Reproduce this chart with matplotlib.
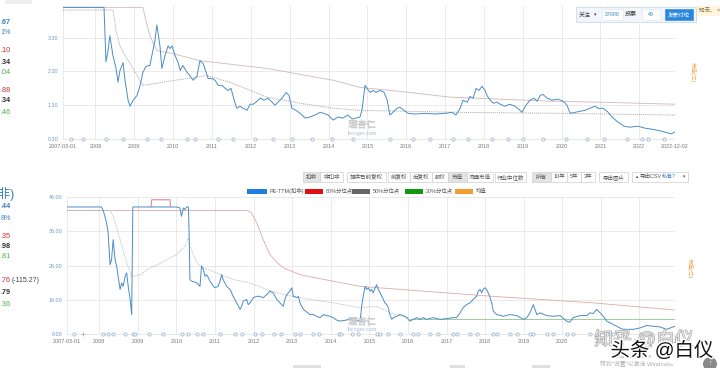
import matplotlib
matplotlib.use('Agg')
import matplotlib.pyplot as plt
from matplotlib.patches import Rectangle, Circle
import matplotlib.patheffects as pe

plt.rcParams['font.family'] = ['Liberation Sans', 'Noto Sans CJK SC', 'DejaVu Sans']

# ---------------- data (decimal years, values) ----------------
x_ticks = [2007.164] + list(range(2008, 2023)) + [2022.92]
x_labels = ['2007-03-01'] + [str(y) for y in range(2008, 2023)] + ['2022-12-02']

top_yticks = [0.30, 1.30, 2.30, 3.30]
bot_yticks = [6.00, 16.00, 26.00, 36.00, 46.00]

top_series = [(2007.164, 4.20), (2008.22, 4.20), (2008.27, 2.59), (2008.32, 2.89), (2008.37, 3.36),
              (2008.45, 2.77), (2008.53, 2.39), (2008.58, 1.98), (2008.63, 2.33), (2008.71, 2.56),
              (2008.76, 2.04), (2008.84, 1.45), (2008.89, 1.27), (2008.97, 1.45), (2009.07, 1.59),
              (2009.15, 1.89), (2009.22, 2.27), (2009.30, 2.45), (2009.40, 2.48), (2009.48, 2.92),
              (2009.53, 3.21), (2009.58, 3.68), (2009.66, 3.06), (2009.71, 2.39), (2009.79, 2.77),
              (2009.87, 3.06), (2009.92, 2.98), (2009.97, 3.06), (2010.05, 2.77), (2010.13, 2.56),
              (2010.18, 2.33), (2010.25, 2.48), (2010.36, 2.27), (2010.43, 2.18), (2010.51, 2.04),
              (2010.61, 2.15), (2010.69, 2.62), (2010.77, 2.54), (2010.85, 2.27), (2010.90, 2.09),
              (2011.00, 2.09), (2011.08, 2.04), (2011.16, 1.89), (2011.26, 1.89), (2011.34, 1.80),
              (2011.41, 1.74), (2011.49, 1.80), (2011.57, 1.45), (2011.64, 1.21), (2011.72, 1.27),
              (2011.80, 1.21), (2011.90, 1.15), (2011.98, 1.33), (2012.06, 1.33), (2012.13, 1.39),
              (2012.24, 1.51), (2012.34, 1.45), (2012.44, 1.51), (2012.55, 1.39), (2012.62, 1.30),
              (2012.70, 1.39), (2012.80, 1.51), (2012.91, 1.68), (2012.98, 1.59), (2013.06, 1.21),
              (2013.16, 1.15), (2013.27, 1.06), (2013.40, 0.92), (2013.52, 0.95), (2013.65, 1.01),
              (2013.78, 1.09), (2013.88, 1.06), (2013.99, 1.01), (2014.12, 0.86), (2014.24, 0.95),
              (2014.37, 0.92), (2014.50, 1.01), (2014.61, 0.89), (2014.71, 0.92), (2014.81, 0.95),
              (2014.86, 1.15), (2014.94, 1.89), (2014.99, 1.80), (2015.07, 1.68), (2015.15, 1.74),
              (2015.22, 1.68), (2015.33, 1.74), (2015.43, 1.68), (2015.51, 1.45), (2015.58, 1.01),
              (2015.66, 1.09), (2015.76, 1.21), (2015.84, 1.24), (2015.94, 1.15), (2016.05, 1.06),
              (2016.23, 1.04), (2016.48, 1.06), (2016.74, 1.04), (2017.00, 1.06), (2017.18, 1.09),
              (2017.28, 1.01), (2017.39, 1.21), (2017.46, 1.45), (2017.57, 1.39), (2017.64, 1.56),
              (2017.72, 1.51), (2017.80, 1.80), (2017.87, 1.74), (2017.95, 1.86), (2018.03, 1.74),
              (2018.08, 1.59), (2018.16, 1.45), (2018.24, 1.36), (2018.34, 1.39), (2018.42, 1.33),
              (2018.54, 1.27), (2018.67, 1.33), (2018.80, 1.27), (2018.93, 1.15), (2018.98, 1.09),
              (2019.08, 1.30), (2019.19, 1.45), (2019.29, 1.51), (2019.37, 1.42), (2019.45, 1.59),
              (2019.52, 1.62), (2019.63, 1.51), (2019.75, 1.45), (2019.91, 1.48), (2020.04, 1.42),
              (2020.14, 1.30), (2020.22, 1.06), (2020.35, 1.09), (2020.48, 1.12), (2020.60, 1.15),
              (2020.73, 1.21), (2020.86, 1.27), (2020.94, 1.21), (2021.07, 1.21), (2021.20, 1.09),
              (2021.30, 0.95), (2021.45, 0.80), (2021.61, 0.68), (2021.76, 0.65), (2021.97, 0.68),
              (2022.15, 0.62), (2022.33, 0.59), (2022.54, 0.54), (2022.74, 0.48), (2022.82, 0.45),
              (2022.92, 0.51)]

top_p80 = [(2007.164, 4.20), (2009.22, 4.20), (2009.30, 3.80), (2009.40, 3.36), (2009.58, 2.92),
           (2009.99, 2.83), (2010.69, 2.62), (2012.42, 2.39), (2014.12, 2.04), (2014.81, 1.83),
           (2015.84, 1.71), (2017.13, 1.54), (2018.42, 1.48), (2019.70, 1.42), (2020.99, 1.39),
           (2022.92, 1.33)]
top_p50 = [(2007.164, 4.12), (2008.45, 4.12), (2008.53, 3.51), (2008.63, 3.06), (2008.76, 2.77),
           (2008.89, 2.54), (2009.07, 2.18), (2009.22, 1.89), (2009.40, 1.92), (2010.05, 2.04),
           (2010.87, 2.18), (2011.46, 1.98), (2012.42, 1.54), (2013.27, 1.36), (2014.12, 1.21),
           (2014.81, 1.15), (2017.39, 1.09), (2019.96, 1.06), (2022.92, 1.01)]

top_events = [2007.37, 2007.68, 2008.27, 2008.71, 2009.33, 2009.69, 2010.36, 2010.56, 2011.16,
              2011.54, 2012.11, 2012.57, 2013.06, 2013.58, 2014.09, 2014.63, 2015.58, 2016.18,
              2016.61, 2017.21, 2017.59, 2018.21, 2018.62, 2019.01, 2019.52, 2020.11, 2020.65,
              2021.09, 2021.68, 2022.07, 2022.23, 2022.64]

bot_pe = [(2007.164, 43.1), (2008.06, 43.1), (2008.11, 41.8), (2008.19, 38.5), (2008.23, 35.6),
          (2008.28, 26.3), (2008.32, 27.8), (2008.36, 33.6), (2008.41, 27.8), (2008.45, 25.9),
          (2008.49, 22.9), (2008.54, 19.1), (2008.58, 21.0), (2008.62, 20.0), (2008.67, 22.9),
          (2008.71, 23.9), (2008.75, 20.0), (2008.80, 16.2), (2008.84, 11.8), (2008.87, 43.1),
          (2010.01, 43.1), (2010.09, 42.8), (2010.13, 40.4), (2010.18, 42.8), (2010.22, 42.3),
          (2010.26, 43.1), (2010.31, 43.1), (2010.33, 34.6), (2010.35, 22.0), (2010.40, 21.5),
          (2010.53, 21.0), (2010.61, 20.0), (2010.65, 25.9), (2010.70, 24.9), (2010.74, 22.9),
          (2010.78, 23.4), (2010.83, 22.5), (2010.87, 21.5), (2010.96, 20.0), (2011.00, 19.6),
          (2011.08, 20.0), (2011.13, 21.5), (2011.17, 23.4), (2011.21, 22.0), (2011.30, 20.0),
          (2011.39, 19.1), (2011.47, 17.1), (2011.56, 15.2), (2011.65, 13.3), (2011.69, 14.2),
          (2011.73, 15.7), (2011.82, 16.2), (2011.86, 14.7), (2011.91, 15.2), (2011.99, 16.7),
          (2012.08, 17.1), (2012.16, 17.1), (2012.25, 16.7), (2012.34, 17.6), (2012.42, 18.6),
          (2012.51, 18.1), (2012.60, 16.2), (2012.68, 15.2), (2012.77, 14.2), (2012.81, 16.2),
          (2012.86, 17.6), (2012.94, 18.6), (2012.99, 19.6), (2013.03, 17.1), (2013.12, 16.7),
          (2013.16, 17.1), (2013.20, 15.2), (2013.29, 13.3), (2013.38, 12.5), (2013.46, 11.8),
          (2013.55, 11.8), (2013.63, 11.3), (2013.72, 10.9), (2013.81, 11.8), (2013.89, 11.5),
          (2013.98, 11.3), (2014.06, 10.9), (2014.15, 10.2), (2014.24, 9.9), (2014.41, 10.2),
          (2014.50, 10.6), (2014.58, 10.4), (2014.76, 9.9), (2014.80, 14.2), (2014.84, 17.1),
          (2014.89, 20.0), (2014.93, 19.1), (2014.97, 19.6), (2015.02, 18.6), (2015.06, 19.1),
          (2015.10, 18.1), (2015.15, 19.6), (2015.19, 20.5), (2015.23, 19.1), (2015.28, 18.1),
          (2015.32, 17.1), (2015.36, 16.2), (2015.40, 15.2), (2015.45, 14.7), (2015.49, 13.8),
          (2015.53, 11.8), (2015.58, 10.4), (2015.62, 10.9), (2015.71, 11.3), (2015.79, 11.8),
          (2015.88, 11.5), (2015.97, 10.9), (2016.05, 9.9), (2016.14, 10.4), (2016.23, 10.9),
          (2016.31, 10.4), (2016.40, 10.9), (2016.48, 10.4), (2016.66, 10.9), (2016.83, 10.4),
          (2017.00, 10.6), (2017.17, 10.9), (2017.26, 10.9), (2017.35, 12.3), (2017.43, 13.8),
          (2017.52, 14.7), (2017.61, 15.2), (2017.69, 16.2), (2017.78, 17.1), (2017.82, 18.6),
          (2017.87, 19.1), (2017.91, 18.1), (2017.95, 19.1), (2017.99, 19.6), (2018.04, 19.1),
          (2018.08, 18.1), (2018.12, 17.1), (2018.17, 15.2), (2018.21, 12.8), (2018.30, 11.8),
          (2018.47, 11.3), (2018.64, 11.8), (2018.82, 11.5), (2018.99, 10.4), (2019.08, 10.9),
          (2019.16, 12.3), (2019.25, 14.7), (2019.29, 13.3), (2019.34, 11.8), (2019.42, 12.3),
          (2019.59, 11.5), (2019.77, 11.3), (2019.94, 11.5), (2020.11, 9.9), (2020.20, 9.6),
          (2020.28, 10.9), (2020.46, 11.5), (2020.63, 11.5), (2020.72, 12.3), (2020.80, 12.1),
          (2020.89, 13.3), (2020.98, 12.3), (2021.06, 11.3), (2021.15, 9.9), (2021.24, 9.4),
          (2021.32, 8.9), (2021.41, 8.4), (2021.49, 7.9), (2021.58, 7.5), (2021.84, 7.5),
          (2022.01, 7.9), (2022.18, 8.6), (2022.36, 8.4), (2022.53, 8.2), (2022.70, 7.5),
          (2022.92, 8.4)]
bot_capped = [(2009.34, 43.1), (2009.36, 45.2), (2009.83, 45.2), (2009.85, 43.1)]

bot_p80 = [(2007.164, 42.1), (2011.85, 42.1), (2011.95, 41.3), (2012.08, 38.5), (2012.25, 33.6),
           (2012.42, 29.3), (2012.60, 27.0), (2012.77, 25.4), (2013.20, 23.4), (2014.06, 21.5),
           (2014.76, 20.0), (2018.20, 17.1), (2020.80, 15.2), (2022.92, 13.1)]
bot_p50 = [(2007.164, 42.1), (2008.28, 42.1), (2008.36, 40.4), (2008.54, 33.6), (2008.71, 26.8),
           (2008.84, 22.9), (2009.06, 23.4), (2009.32, 25.4), (2009.57, 26.6), (2009.75, 27.8),
           (2010.01, 29.3), (2010.22, 31.7), (2010.31, 34.1), (2010.35, 31.7), (2010.53, 26.8),
           (2010.70, 25.4), (2011.04, 23.9), (2011.47, 22.0), (2011.91, 21.0), (2012.34, 19.1),
           (2012.77, 17.6), (2013.20, 16.7), (2014.06, 15.2), (2014.76, 13.8), (2015.19, 14.2),
           (2015.60, 12.0), (2016.05, 10.8)]
bot_p20 = [(2016.05, 10.6), (2022.92, 10.6)]

bot_events = [2007.35, 2008.10, 2008.23, 2008.36, 2008.67, 2008.87, 2008.93, 2009.29, 2009.65,
              2010.14, 2010.30, 2010.53, 2010.69, 2011.13, 2011.52, 2011.70, 2012.04, 2012.22,
              2012.53, 2012.71, 2013.07, 2013.20, 2013.54, 2013.69, 2014.21, 2014.26, 2014.55,
              2014.70, 2015.20, 2015.27, 2015.48, 2015.79, 2016.13, 2016.26, 2016.57, 2016.78,
              2017.17, 2017.27, 2017.61, 2017.79, 2018.20, 2018.31, 2018.64, 2018.82, 2019.16,
              2019.24, 2019.60, 2019.76, 2020.12, 2020.28, 2020.72, 2020.90, 2021.16, 2021.31,
              2021.62, 2022.05, 2022.30, 2022.62]
bot_plus_events = [2007.58]

legend_items = [('PE-TTM(扣非)', '#1e7fe0'), ('80%分位点', '#e01010'), ('50%分位点', '#666666'),
                ('20%分位点', '#119911'), ('均值', '#f39c32')]

# ---------------- figure ----------------
W, H = 720, 368
fig = plt.figure(figsize=(7.2, 3.68), dpi=100)
fig.patch.set_facecolor('white')

BLUE = '#4a8cc8'
GRID = '#e6e6e6'


def unzip(pairs):
    return [p[0] for p in pairs], [p[1] for p in pairs]


def style_axes(ax, yticks, fmt):
    ax.set_xlim(2007.164, 2022.92)
    ax.set_xticks(x_ticks)
    ax.set_xticklabels(x_labels)
    ax.set_yticks(yticks)
    ax.set_yticklabels([fmt % v for v in yticks])
    ax.grid(True, color=GRID, lw=0.6)
    ax.set_axisbelow(True)
    for s in ax.spines.values():
        s.set_visible(False)
    ax.tick_params(axis='both', length=0, labelsize=3.9, pad=3.2)
    ax.tick_params(axis='x', colors='#777777')
    ax.tick_params(axis='y', colors='#6a9acb')
    ax.patch.set_alpha(0)


# top chart
ax1 = fig.add_axes([63 / W, 1 - 139.5 / H, 612 / W, 133.5 / H])
style_axes(ax1, top_yticks, '%.2f')
ax1.set_ylim(0.285, 4.24)
t, v = unzip(top_p80)
ax1.plot(t, v, color='#d2b8b8', lw=0.6)
t, v = unzip(top_p50)
ax1.plot(t, v, color='#a8a8a8', lw=0.7, ls=(0, (1, 1)))
t, v = unzip(top_series)
ax1.plot(t, v, color=BLUE, lw=0.7)
ax1.plot(top_events, [top_yticks[0]] * len(top_events), 'o', ms=2.3, mfc='white',
         mec='#8fa8c0', mew=0.5, clip_on=False)

# bottom chart
ax2 = fig.add_axes([67 / W, 1 - 335 / H, 608 / W, 138 / H])
style_axes(ax2, bot_yticks, '%.2f')
ax2.set_ylim(5.85, 46.0)
t, v = unzip(bot_p80)
ax2.plot(t, v, color='#e0a8a8', lw=0.6)
t, v = unzip(bot_p50)
ax2.plot(t, v, color='#b0b0b0', lw=0.6, ls=(0, (1, 1)))
t, v = unzip(bot_p20)
ax2.plot(t, v, color='#8cc88c', lw=0.6)
t, v = unzip(bot_pe)
ax2.plot(t, v, color=BLUE, lw=0.7)
t, v = unzip(bot_capped)
ax2.plot(t, v, color='#d98a92', lw=0.8)
ax2.plot(bot_events, [bot_yticks[0]] * len(bot_events), 'o', ms=2.3, mfc='white',
         mec='#8fa8c0', mew=0.5, clip_on=False)
ax2.plot(bot_plus_events, [bot_yticks[0]] * len(bot_plus_events), '+', ms=2.5,
         mec='#8fa8c0', mew=0.5, clip_on=False)

# ---------------- UI overlay ----------------
ui = fig.add_axes([0, 0, 1, 1], zorder=5)
ui.set_xlim(0, W)
ui.set_ylim(H, 0)
ui.axis('off')
ui.patch.set_alpha(0)

ui.add_patch(Rectangle((5, 0), 27, 4, facecolor='#eeeeee', edgecolor='none'))

# left side partial numbers
left_top = [(22, '.67', '#3d7fc1', True), (33, '1%', '#3d7fc1', False),
            (51, '.10', '#c9302c', False), (62, '.34', '#333333', True), (72, '.04', '#4cae4c', False),
            (90, '.88', '#c9302c', False), (100, '.34', '#333333', True), (112, '.46', '#4cae4c', False)]
for y, s, c, b in left_top:
    ui.text(0.5, y, s, fontsize=5.2, color=c, weight='bold' if b else 'normal', va='center', ha='left')
ui.text(14, 194, '(扣非)', fontsize=9, color='#3d7fc1', va='center', ha='right')
left_bot = [(207, '.44', '#3d7fc1', True), (218, '8%', '#3d7fc1', False),
            (236, '.35', '#c9302c', False), (246, '.98', '#333333', True), (257, '.81', '#4cae4c', False),
            (293, '.79', '#333333', True), (304, '.36', '#4cae4c', False)]
for y, s, c, b in left_bot:
    ui.text(0.5, y, s, fontsize=5.2, color=c, weight='bold' if b else 'normal', va='center', ha='left')
ui.text(0.5, 281, '.76', fontsize=5.2, color='#c9302c', va='center', ha='left')
ui.text(11.5, 281, '(-115.27)', fontsize=5.0, color='#444444', va='center', ha='left')

# top-right control box
ui.add_patch(Rectangle((576, 7), 120, 15, facecolor='#f2f6fb', edgecolor='#c8dcf0', lw=0.6))
ui.text(585, 14.5, '关注', fontsize=4.3, color='#444', va='center', ha='center')
ui.text(595, 14.5, '▾', fontsize=3.5, color='#444', va='center', ha='center')
ui.add_patch(Rectangle((602, 9), 21, 11, facecolor='white', edgecolor='#dde6ef', lw=0.4))
ui.text(612.5, 14.5, '27000', fontsize=3.8, color='#3a7fc2', va='center', ha='center')
ui.text(631, 14.5, '投票', fontsize=4.3, color='#444', va='center', ha='center')
ui.add_patch(Rectangle((642, 9), 18, 11, facecolor='white', edgecolor='#dde6ef', lw=0.4))
ui.text(651, 14.5, '49', fontsize=3.8, color='#3a7fc2', va='center', ha='center')
ui.add_patch(Rectangle((665, 9), 28, 11, facecolor='#2a86de', edgecolor='#2a86de', lw=0.4))
ui.text(679, 14.5, '发表讨论', fontsize=4.0, color='white', va='center', ha='center')
ui.add_patch(Rectangle((697, 6), 23, 10, facecolor='#fdf5dc', edgecolor='none'))
ui.text(699, 11, '知无、 ×', fontsize=4.0, color='#8a6d3b', va='center', ha='left')

# right vertical labels
ui.text(693, 72, '市值(亿)', fontsize=4.0, color='#e8a040', rotation=270, va='center', ha='center')
ui.text(690, 268, '市值(亿)', fontsize=4.0, color='#e8a040', rotation=270, va='center', ha='center')

# toolbar
buttons = [(303, 320, '扣非', True), (320, 343, '非扣非', False), (347, 386, '提供已前复权', False),
           (388, 410, '前复权', False), (410, 432, '后复权', False), (432, 448, '股价', False),
           (448, 467, '市值', True), (467, 493, '流通市值', False), (495, 526, '行业中位数', False),
           (532, 551, '所有', True), (551, 567, '10年', False), (567, 581, '5年', False),
           (581, 595, '3年', False), (599, 628, '导出图片', False)]
for x0, x1, s, act in buttons:
    ui.add_patch(Rectangle((x0, 172), x1 - x0, 10, facecolor='#e3e3e3' if act else 'white',
                           edgecolor='#cfcfcf', lw=0.5))
    ui.text((x0 + x1) / 2, 177, s, fontsize=4.0, color='#555', va='center', ha='center')
ui.add_patch(Rectangle((632, 172), 56, 10, facecolor='white', edgecolor='#cfcfcf', lw=0.5))
ui.text(636, 177, '▲', fontsize=3.2, color='#555', va='center', ha='center')
ui.text(640, 177, '导出CSV', fontsize=4.0, color='#555', va='center', ha='left')
ui.text(662, 177, '私有?', fontsize=4.0, color='#3a7fc2', va='center', ha='left')
ui.text(684, 177, '▾', fontsize=3.5, color='#555', va='center', ha='center')

# legend row
leg_pos = [247, 305, 352, 405, 455]
for x0, (name, col) in zip(leg_pos, legend_items):
    w = 18 if x0 != 247 else 20
    ui.add_patch(Rectangle((x0, 188.5), w, 5, facecolor=col, edgecolor='none'))
    ui.text(x0 + w + 2.5, 191, name, fontsize=3.9, color='#555', va='center', ha='left')

# lixinger watermarks
for y in (125, 322):
    ui.text(362, y, '理杏仁', fontsize=6.5, color='#d8d8d8', va='center', ha='center',
            path_effects=[pe.withStroke(linewidth=0.4, foreground='#b8b8b8')])
    ui.text(362, y + 8, 'lixinger.com', fontsize=4.0, color='#a9bfd4', va='center', ha='center')

# bottom partial buttons
ui.add_patch(Rectangle((293, 365), 28, 3, facecolor='#e0e0e0', edgecolor='none'))
ui.add_patch(Rectangle((450, 365), 15, 3, facecolor='#e0e0e0', edgecolor='none'))
ui.add_patch(Rectangle((532, 365), 18, 3, facecolor='#e0e0e0', edgecolor='none'))

# corner watermarks
ui.text(644, 340, '知乎 @白仪', fontsize=13.5, color='#e4e4e4', va='center', ha='center',
        path_effects=[pe.withStroke(linewidth=0.7, foreground='#9a9a9a')])
ui.text(612, 356, '激活 Windows', fontsize=4.5, color='#b0b0b0', va='center', ha='left')
ui.text(600, 364, '转到"设置"以激活 Windows。', fontsize=4.2, color='#b0b0b0', va='center', ha='left')
ui.text(662, 351, '头条 @白仪', fontsize=14, color='#111111', va='center', ha='center',
        path_effects=[pe.withStroke(linewidth=2.2, foreground='white')])
ui.add_patch(Circle((710, 364), 7, facecolor='#8a8a8a', edgecolor='none'))
ui.text(710, 363, '↑', fontsize=5, color='white', va='center', ha='center')

fig.savefig('out.png', dpi=100, facecolor='white')
